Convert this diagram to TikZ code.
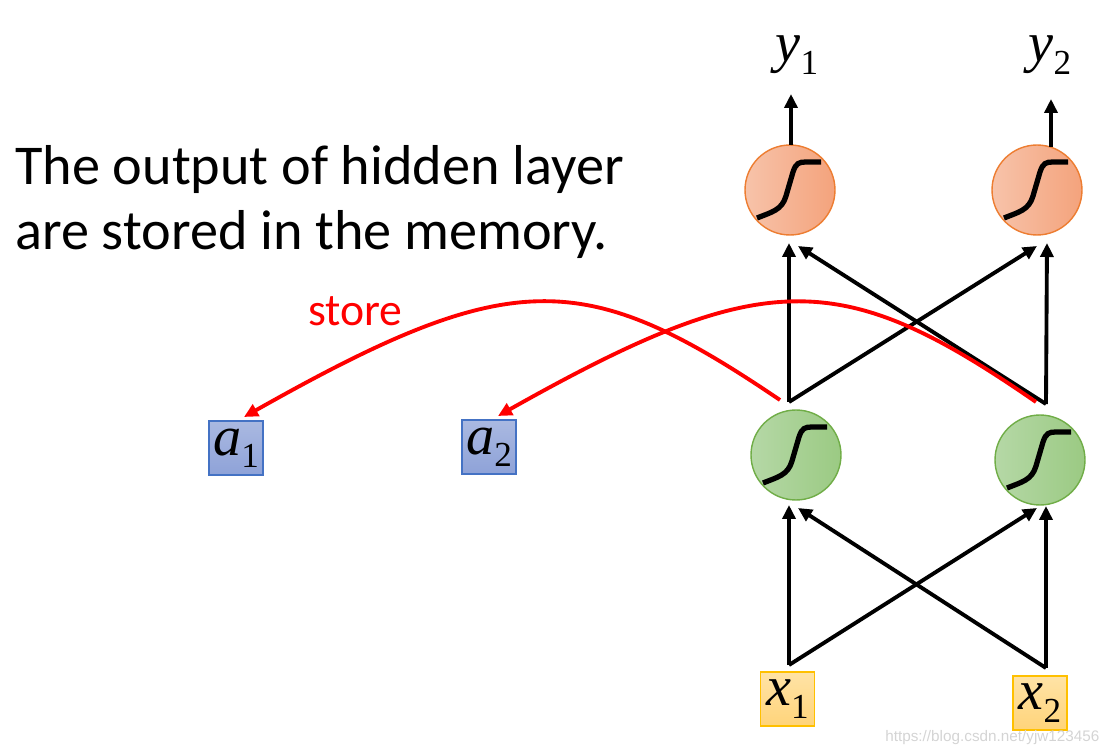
\documentclass[tikz,border=0pt]{standalone}
\usepackage{fontspec}
\setmainfont{Carlito}
\newfontfamily\timesfont{Liberation Serif}
\newfontfamily\wmfont{Liberation Sans}
\usetikzlibrary{arrows.meta}

\definecolor{outfillA}{HTML}{F7C3AA}
\definecolor{outfillB}{HTML}{F4A37C}
\definecolor{outdraw}{HTML}{ED7D31}
\definecolor{hidfillA}{HTML}{B5D8A6}
\definecolor{hidfillB}{HTML}{9BCA83}
\definecolor{hiddraw}{HTML}{70AD47}
\definecolor{memfillA}{HTML}{AAB9E1}
\definecolor{memfillB}{HTML}{8EA2D8}
\definecolor{memdraw}{HTML}{4472C4}
\definecolor{infillA}{HTML}{FFE3A6}
\definecolor{infillB}{HTML}{FFD47A}
\definecolor{indraw}{HTML}{FFC000}

\newcommand\varlbl[2]{{\timesfont\fontsize{32}{32}\selectfont\itshape #1}{\timesfont\fontsize{20}{20}\selectfont\raisebox{-7pt}{#2}}}

\tikzset{
  outneuron/.style={circle, draw=outdraw, thick, left color=outfillA, right color=outfillB, minimum size=1.8cm, inner sep=0pt},
  hidneuron/.style={circle, draw=hiddraw, thick, left color=hidfillA, right color=hidfillB, minimum size=1.8cm, inner sep=0pt},
  membox/.style={draw=memdraw, thick, top color=memfillA, bottom color=memfillB, minimum size=1.08cm, inner sep=0pt},
  inbox/.style={draw=indraw, thick, top color=infillA, bottom color=infillB, minimum size=1.08cm, inner sep=0pt},
  wire/.style={black, line width=2.2pt, -{Triangle[length=0.28cm,width=0.26cm]}},
  storewire/.style={red, line width=2.2pt, -{Triangle[length=0.28cm,width=0.26cm]}},
  sigline/.style={black, line width=3pt},
}

\begin{document}
\begin{tikzpicture}[x=0.02cm, y=-0.02cm]
        \useasboundingbox (0,0) rectangle (1117,753);

        \node[anchor=base west, inner sep=0pt, font=\fontsize{32}{37}\selectfont] (desc1) at (15,185) {The output of hidden layer};
        \node[anchor=base west, inner sep=0pt, font=\fontsize{32}{37}\selectfont] (desc2) at (15,250) {are stored in the memory.};

        \node[outneuron] (o1) at (790,190) {};
        \node[outneuron] (o2) at (1037,190) {};
        \node[hidneuron] (h1) at (796,455) {};
        \node[hidneuron] (h2) at (1040,460) {};

        \node[membox] (a1) at (236,448) {\varlbl{a}{1}};
        \node[membox] (a2) at (489,447) {\varlbl{a}{2}};
        \node[inbox] (x1) at (787.5,699) {\varlbl{x}{1}};
        \node[inbox] (x2) at (1040,703) {\varlbl{x}{2}};

        \node (y1) at (797,55) {\varlbl{y}{1}};
        \node (y2) at (1050,55) {\varlbl{y}{2}};

        \foreach \n in {o1,o2,h1,h2}
            \draw[sigline, shift={(\n.center)}] (-33,28) .. controls (-18,22) and (-8,20) .. (-4,6) -- (3,-18) .. controls (6,-27) and (9,-28) .. (16,-28) -- (31,-28);

        \coordinate (o1top) at (791,145);
        \coordinate (o2top) at (1051,147);
        \coordinate (y1tip) at (791,94);
        \coordinate (y2tip) at (1051,99);

        \coordinate (h1up) at (789,402);
        \coordinate (h2up) at (1046,404);
        \coordinate (o1a) at (789,243);
        \coordinate (o1b) at (798,246);
        \coordinate (o2a) at (1047,243);
        \coordinate (o2b) at (1037,246);

        \coordinate (x1up) at (789,665);
        \coordinate (x2up) at (1046,668);
        \coordinate (h1a) at (789,505);
        \coordinate (h1b) at (798,508);
        \coordinate (h2a) at (1046,506);
        \coordinate (h2b) at (1037,508);

        \draw[wire] (o1top) -- (y1tip);
        \draw[wire] (o2top) -- (y2tip);

        \draw[wire] (h1up) -- (o1a);
        \draw[wire] (h1up) -- (o2b);
        \draw[wire] (h2up) -- (o2a);
        \draw[wire] (h2up) -- (o1b);

        \draw[wire] (x1up) -- (h1a);
        \draw[wire] (x1up) -- (h2b);
        \draw[wire] (x2up) -- (h2a);
        \draw[wire] (x2up) -- (h1b);

        \coordinate (h1st) at (780,400);
        \coordinate (h2st) at (1036,402);
        \coordinate (a1tip) at (244,417);
        \coordinate (a2tip) at (498,416);

        \draw[storewire] (h1st) .. controls (585,268) and (513,265) .. (a1tip);
        \draw[storewire] (h2st) .. controls (842,268) and (766,265) .. (a2tip);
        \node[red, anchor=base west, inner sep=0pt, font=\fontsize{26}{26}\selectfont] (store) at (308,326) {store};

        \node[anchor=base west, inner sep=0pt, text=black!17, font=\wmfont\fontsize{8.7}{10}\selectfont] (mark) at (885,741) {https://blog.csdn.net/yjw123456};
    \end{tikzpicture}
\end{document}
